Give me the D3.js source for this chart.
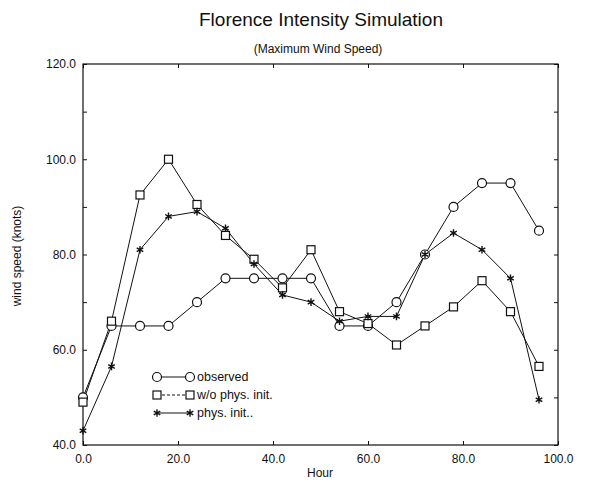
<!DOCTYPE html>
<html>
<head>
<meta charset="utf-8">
<script src="https://cdn.jsdelivr.net/npm/d3@7"></script>
<style>
  body { margin: 0; background: #fff; }
  text { font-family: "Liberation Sans", Arial, sans-serif; fill: #111; }
</style>
</head>
<body>
<script>
// hours every 6 h
var hours = [0, 6, 12, 18, 24, 30, 36, 42, 48, 54, 60, 66, 72, 78, 84, 90, 96];
var observed = [50, 65, 65, 65, 70, 75, 75, 75, 75, 65, 65, 70, 80, 90, 95, 95, 85];
var noPhys = [49, 66, 92.5, 100, 90.5, 84, 79, 73, 81, 68, 65.5, 61, 65, 69, 74.5, 68, 56.5];
var phys = [43, 56.5, 81, 88, 89, 85.5, 78, 71.5, 70, 66, 67, 67, 80, 84.5, 81, 75, 49.5];
var xTicks = [0, 20, 40, 60, 80, 100];
var yTicks = [40, 60, 80, 100, 120];

var width = 599, height = 487;
var margin = {left: 83, right: 41, top: 64, bottom: 42};

var svg = d3.select("body").append("svg")
  .attr("width", width)
  .attr("height", height);

var x = d3.scaleLinear().domain([0, 100]).range([margin.left, width - margin.right]);
var y = d3.scaleLinear().domain([40, 120]).range([height - margin.bottom, margin.top]);

// frame
svg.append("rect")
  .attr("x", x(0)).attr("y", y(120))
  .attr("width", x(100) - x(0)).attr("height", y(40) - y(120))
  .attr("fill", "none").attr("stroke", "#111").attr("stroke-width", 1.2);

// axes with inward ticks
svg.append("g").attr("transform", "translate(0," + y(40) + ")")
  .call(d3.axisBottom(x).tickValues(xTicks).tickSize(-4).tickPadding(9).tickFormat(d3.format(".1f")));
svg.append("g").attr("transform", "translate(0," + y(120) + ")")
  .call(d3.axisTop(x).tickValues(xTicks).tickSize(-4).tickFormat(""));
svg.append("g").attr("transform", "translate(" + x(0) + ",0)")
  .call(d3.axisLeft(y).tickValues(d3.range(40, 121, 10)).tickSize(-4).tickPadding(7)
    .tickFormat(function (d) { return yTicks.indexOf(d) >= 0 ? d3.format(".1f")(d) : ""; }));
svg.append("g").attr("transform", "translate(" + x(100) + ",0)")
  .call(d3.axisRight(y).tickValues(d3.range(40, 121, 10)).tickSize(-4).tickFormat(""));

svg.selectAll(".domain").remove();
svg.selectAll(".tick line").attr("stroke", "#111");
svg.selectAll(".tick text").attr("font-size", 12).attr("fill", "#111")
  .attr("font-family", "Liberation Sans, Arial, sans-serif");

// titles
svg.append("text").attr("x", 321).attr("y", 26).attr("text-anchor", "middle")
  .attr("font-size", 19).text("Florence Intensity Simulation");
svg.append("text").attr("x", 318).attr("y", 53).attr("text-anchor", "middle")
  .attr("font-size", 12).text("(Maximum Wind Speed)");
svg.append("text").attr("x", 320).attr("y", 477).attr("text-anchor", "middle")
  .attr("font-size", 12).text("Hour");
svg.append("text").attr("transform", "translate(21," + 256 + ") rotate(-90)")
  .attr("text-anchor", "middle").attr("font-size", 12).text("wind speed (knots)");

var line = d3.line()
  .x(function (d, i) { return x(hours[i]); })
  .y(function (d) { return y(d); });

function drawMarker(g, type, cx, cy) {
  if (type === "circle") {
    g.append("circle").attr("cx", cx).attr("cy", cy).attr("r", 4.5)
      .attr("fill", "#fff").attr("stroke", "#111").attr("stroke-width", 1.2);
  } else if (type === "square") {
    g.append("rect").attr("x", cx - 4).attr("y", cy - 4).attr("width", 8).attr("height", 8)
      .attr("fill", "#fff").attr("stroke", "#111").attr("stroke-width", 1.2);
  } else {
    g.append("path")
      .attr("d", d3.symbol().type(d3.symbolAsterisk).size(40)())
      .attr("transform", "translate(" + cx + "," + cy + ")")
      .attr("fill", "none").attr("stroke", "#111").attr("stroke-width", 1.4);
  }
}

var series = [
  {name: "observed", values: observed, marker: "circle", dash: null},
  {name: "w/o phys. init.", values: noPhys, marker: "square", dash: "3,2"},
  {name: "phys. init..", values: phys, marker: "star", dash: null}
];

series.forEach(function (s) {
  svg.append("path").datum(s.values)
    .attr("d", line)
    .attr("fill", "none").attr("stroke", "#111").attr("stroke-width", 1);
});
series.forEach(function (s) {
  var g = svg.append("g");
  s.values.forEach(function (v, i) { drawMarker(g, s.marker, x(hours[i]), y(v)); });
});

// legend
var leg = svg.append("g");
series.forEach(function (s, i) {
  var ly = 377 + i * 18;
  leg.append("line").attr("x1", 157).attr("x2", 190).attr("y1", ly).attr("y2", ly)
    .attr("stroke", "#111").attr("stroke-width", 1)
    .attr("stroke-dasharray", s.dash);
  drawMarker(leg, s.marker, 157, ly);
  drawMarker(leg, s.marker, 190, ly);
  leg.append("text").attr("x", 197).attr("y", ly + 4).attr("font-size", 12.5).text(s.name);
});
</script>
</body>
</html>
